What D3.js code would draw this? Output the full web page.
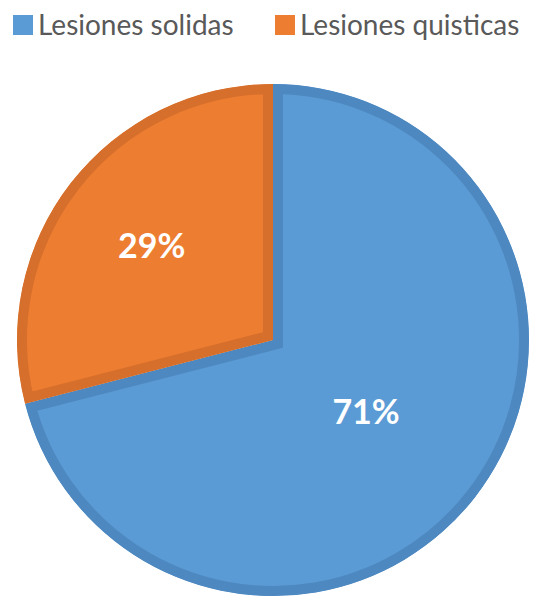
<!DOCTYPE html>
<html>
<head>
<meta charset="utf-8">
<script src="https://cdn.jsdelivr.net/npm/d3@7"></script>
<style>
  body { margin: 0; background: #fff; }
  text { font-family: Lato, "Open Sans", sans-serif; }
</style>
</head>
<body>
<div id="chart"></div>
<script>
const width = 547, height = 596;

const categories = ["Lesiones solidas", "Lesiones quisticas"];
const values = [71, 29];
const colors = ["#5B9BD5", "#ED7D31"];
const borderColors = ["#4E88C0", "#D56F2B"];

const cx = 273, cy = 340, radius = 256;
const border = 10;
// label distance from centre, as fraction of radius (Excel best fit)
const labelFrac = [0.46, 0.6];

const svg = d3
    .select("#chart")
    .append("svg")
    .attr("width", width)
    .attr("height", height);

const data = categories.map((c, i) => ({ name: c, value: values[i], i }));

const pie = d3.pie().sort(null).value((d) => d.value);
const arcs = pie(data);
const arc = d3.arc().innerRadius(0).outerRadius(radius);

const defs = svg.append("defs");
const g = svg.append("g").attr("transform", `translate(${cx},${cy})`);

arcs.forEach((a, i) => {
    defs.append("clipPath")
        .attr("id", `clip-${i}`)
        .append("path")
        .attr("d", arc(a));
    g.append("path")
        .attr("d", arc(a))
        .attr("fill", colors[i])
        .attr("stroke", borderColors[i])
        .attr("stroke-width", border * 2)
        .attr("stroke-linejoin", "miter")
        .attr("clip-path", `url(#clip-${i})`);
});

arcs.forEach((a, i) => {
    const r = radius * labelFrac[i];
    const [x, y] = d3.arc().innerRadius(r).outerRadius(r).centroid(a);
    g.append("text")
        .attr("x", x)
        .attr("y", y)
        .attr("text-anchor", "middle")
        .attr("dy", "0.36em")
        .style("font-size", "34px")
        .style("font-weight", "bold")
        .attr("fill", "#fff")
        .text(d3.format(".0f")(a.data.value) + "%");
});

// legend
const legendX = [13, 275];
const legend = svg.append("g");
data.forEach((d, i) => {
    legend.append("rect")
        .attr("x", legendX[i])
        .attr("y", 15)
        .attr("width", 20)
        .attr("height", 20)
        .attr("fill", colors[i]);
    legend.append("text")
        .attr("x", legendX[i] + 25)
        .attr("y", 35)
        .style("font-size", "28px")
        .attr("fill", "#595959")
        .text(d.name);
});
</script>
</body>
</html>
